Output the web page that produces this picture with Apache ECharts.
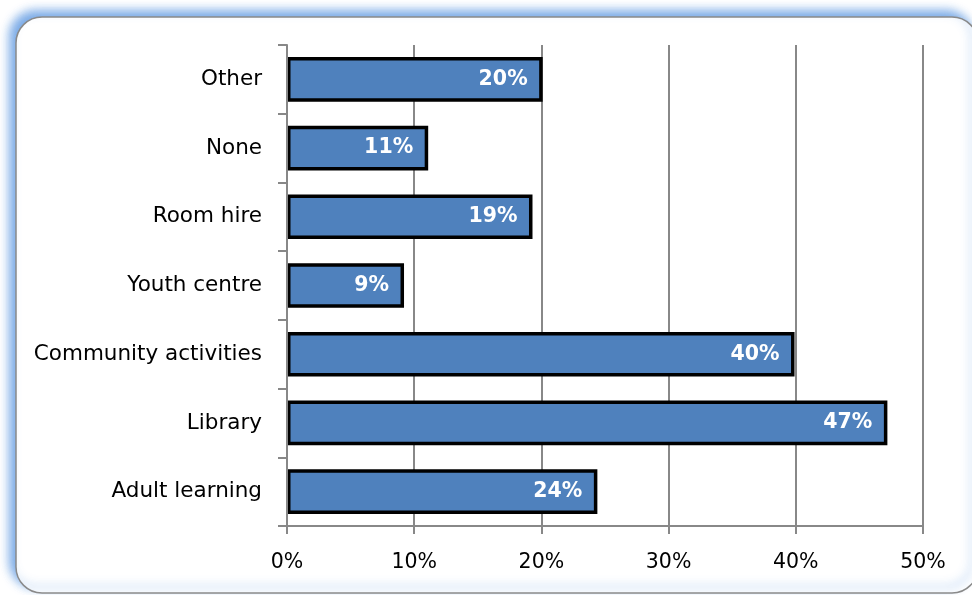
<!DOCTYPE html>
<html><head><meta charset="utf-8">
<script src="https://cdn.jsdelivr.net/npm/echarts@6/dist/echarts.min.js"></script>
<style>html,body{margin:0;padding:0;background:#fff}#c{width:972px;height:595px}</style>
</head><body><div id="c"></div>
<script>
const categories = ['Adult learning', 'Library', 'Community activities', 'Youth centre', 'Room hire', 'None', 'Other'];
const values = [24.4, 47.2, 39.9, 9.2, 19.3, 11.1, 20.1];
const xTicks = [0, 10, 20, 30, 40, 50];

const chart = echarts.init(document.getElementById('c'));
chart.setOption({
  animation: false,
  graphic: [{
    type: 'rect', z: -10, silent: true,
    shape: { x: 16, y: 17, width: 962, height: 576, r: 26 },
    style: { fill: '#fff', stroke: '#8a8a8a', lineWidth: 1.5,
      shadowColor: 'rgba(90,150,225,0.8)', shadowBlur: 10, shadowOffsetX: -6, shadowOffsetY: -6 }
  }],
  grid: { left: 287, right: 49, top: 45, bottom: 69, containLabel: false },
  xAxis: {
    type: 'value', min: xTicks[0], max: xTicks[xTicks.length - 1], interval: 10,
    axisLine: { show: true, lineStyle: { color: '#888', width: 2 } },
    axisTick: { show: true, length: 8, lineStyle: { color: '#888', width: 2 } },
    splitLine: { show: true, lineStyle: { color: '#888', width: 2 } },
    axisLabel: { formatter: v => v + '%', color: '#000', fontFamily: 'DejaVu Sans', fontSize: 20.5, margin: 26 }
  },
  yAxis: {
    type: 'category', data: categories, z: 5,
    axisLine: { show: true, lineStyle: { color: '#888', width: 2 } },
    axisTick: { show: true, length: 9, lineStyle: { color: '#888', width: 2 } },
    axisLabel: { color: '#000', fontFamily: 'DejaVu Sans', fontSize: 21.5, margin: 25 }
  },
  series: [{
    type: 'bar', data: values, barCategoryGap: '35%',
    itemStyle: { color: '#4F81BD', borderColor: '#000', borderWidth: 3.5 },
    label: { show: true, position: 'insideRight', distance: 15,
      formatter: p => Math.round(p.value) + '%',
      color: '#fff', fontWeight: 'bold', fontFamily: 'DejaVu Sans', fontSize: 20.5 }
  }]
});
</script></body></html>
